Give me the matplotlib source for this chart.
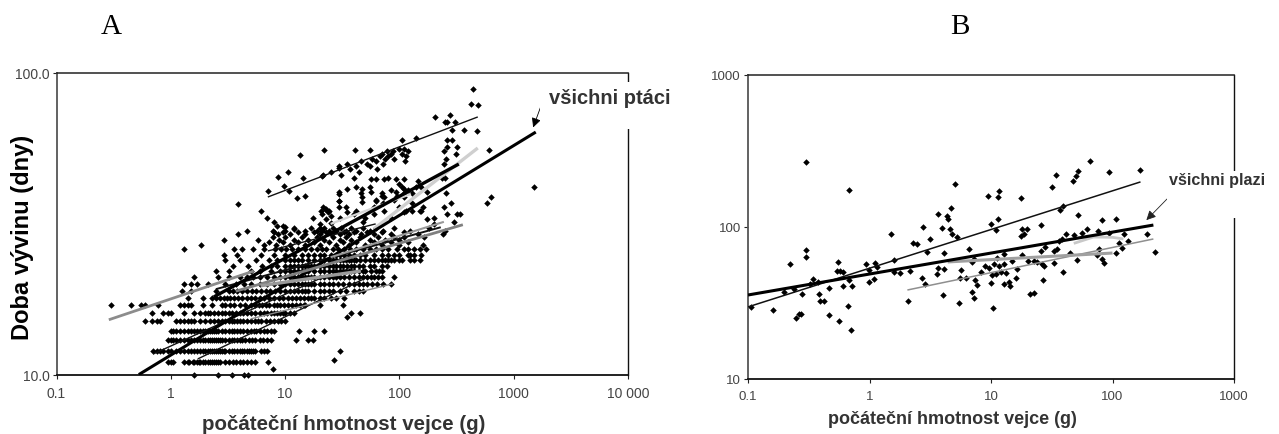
import matplotlib
matplotlib.use("Agg")
import matplotlib.pyplot as plt
from matplotlib.patches import Rectangle

W, H = 1279, 435

# ---------- Panel A: rows of whole-day development times ----------
rows_a = {
 10: [1.6, 2.6, 3.4, 4.4, 4.7],
 11: [0.95, 1.0, 1.05, 1.3, 1.4, 1.45, 1.55, 1.6, 1.7, 1.75, 1.8, 1.9, 2.0, 2.1, 2.2, 2.3, 2.4, 2.5, 2.6, 2.7, 3.0, 3.2, 3.5, 3.7, 4.0, 4.3, 4.6, 5.0, 5.5, 7.1],
 12: [0.7, 0.75, 0.8, 0.85, 0.95, 1.0, 1.1, 1.2, 1.3, 1.4, 1.5, 1.6, 1.7, 1.8, 1.9, 2.0, 2.1, 2.2, 2.3, 2.4, 2.5, 2.6, 2.7, 2.8, 2.9, 3.0, 3.2, 3.4, 3.6, 3.8, 4.0, 4.2, 4.4, 4.6, 4.8, 5.0, 5.2, 5.5, 6.2, 6.6, 7.0],
 13: [0.95, 1.0, 1.05, 1.1, 1.2, 1.3, 1.4, 1.5, 1.6, 1.7, 1.8, 1.9, 2.0, 2.1, 2.2, 2.3, 2.4, 2.5, 2.6, 2.7, 2.8, 3.0, 3.2, 3.4, 3.6, 3.8, 4.0, 4.2, 4.5, 4.8, 5.1, 5.4, 6.0, 6.4, 7.0, 7.6, 12.4, 15.8, 17.5],
 14: [1.0, 1.05, 1.1, 1.2, 1.3, 1.4, 1.5, 1.6, 1.7, 1.8, 1.9, 2.0, 2.1, 2.2, 2.3, 2.4, 2.5, 2.6, 2.8, 3.0, 3.2, 3.4, 3.6, 3.8, 4.0, 4.3, 4.6, 5.0, 5.3, 5.6, 6.0, 6.5, 7.0, 7.5, 8.0, 13.2, 18.0, 21.8],
 15: [0.6, 0.68, 0.75, 0.8, 1.1, 1.2, 1.3, 1.4, 1.5, 1.6, 1.8, 2.0, 2.2, 2.4, 2.6, 2.8, 3.0, 3.2, 3.4, 3.6, 3.8, 4.0, 4.3, 4.6, 5.0, 5.4, 5.8, 6.2, 6.8, 7.4, 8.0, 8.6, 9.2, 10.0],
 16: [0.68, 0.85, 0.95, 1.0, 1.3, 1.6, 1.8, 2.0, 2.1, 2.2, 2.4, 2.6, 2.8, 3.0, 3.2, 3.4, 3.7, 4.0, 4.3, 4.6, 5.0, 5.5, 6.0, 6.5, 7.0, 7.5, 8.0, 8.5, 9.0, 9.5, 10.0, 11.0, 12.0],
 17: [0.3, 0.45, 0.55, 0.6, 0.78, 1.2, 1.3, 1.4, 1.5, 1.9, 2.3, 2.8, 3.0, 3.3, 3.6, 4.0, 4.5, 5.0, 5.5, 5.9, 6.3, 6.8, 7.3, 8.0, 8.5, 9.0, 9.7, 10.5, 11.5, 12.5, 13.5, 14.5, 15.0, 20.0],
 18: [1.4, 1.9, 2.3, 2.5, 2.7, 2.9, 3.1, 3.3, 3.6, 3.9, 4.2, 4.6, 5.0, 5.5, 6.0, 6.6, 7.2, 8.0, 8.8, 9.6, 10.5, 11.5, 12.5, 13.5, 14.5, 16, 17, 18, 20, 22, 25, 28, 33],
 19: [1.25, 1.5, 2.5, 3.2, 3.5, 3.8, 4.2, 4.6, 5.1, 5.6, 6.1, 6.8, 7.4, 8.2, 9, 10, 11, 12, 13, 14, 15, 16, 18, 20, 22, 24, 26, 30, 34, 40, 44, 48],
 20: [1.3, 1.5, 1.7, 2.1, 3.0, 3.7, 4.4, 5, 6, 7, 8, 9, 10, 11, 12, 13, 14, 15, 16, 17, 18, 20, 22, 24, 26, 29, 32, 36, 40, 44, 48, 52, 58, 64, 72, 84],
 21: [1.6, 2.6, 3.2, 4, 4.6, 5.2, 6.0, 7, 8, 9, 10, 11, 12, 13, 14, 15, 16, 17, 18, 20, 22, 24, 26, 28, 30, 33, 36, 40, 44, 48, 52, 56, 60, 65, 70, 90],
 22: [2.5, 3.2, 5.0, 6.0, 7.5, 9, 10, 11, 12, 13, 14, 15, 16, 18, 20, 22, 24, 26, 28, 30, 32, 34, 36, 38, 40, 44, 48, 50, 56, 62, 66, 70],
 23: [3.5, 4.7, 6.3, 7.5, 8.5, 10, 11, 12, 13, 14, 15, 16, 17, 18, 20, 22, 24, 26, 28, 30, 32, 35, 38, 40, 44, 48, 55, 60, 70, 78],
 24: [3.0, 4.0, 5.6, 7.2, 8.5, 10, 11, 12, 13, 14, 16, 18, 20, 22, 24, 26, 28, 30, 32, 34, 36, 38, 40, 42, 45, 50, 55, 60, 65, 70, 75, 80, 85, 90, 100, 105, 125, 135, 150],
 25: [2.9, 3.8, 6.2, 8, 10, 12, 14, 16, 18, 20, 22, 25, 28, 30, 33, 36, 40, 45, 50, 60, 70, 80, 90, 100, 120, 125, 135, 155],
 26: [1.3, 3.6, 4.2, 5.2, 6.5, 8.2, 9.2, 10.2, 11.5, 13, 15, 17, 19, 21, 23, 26, 29, 33, 37, 42, 48, 55, 62, 70, 80, 95, 110, 120, 135, 150, 170],
 27: [1.85, 6.6, 8.3, 11, 15, 20, 28, 36, 50, 70, 100, 160],
 27.6: [7.2, 9.5, 13, 18, 24, 32, 42, 60, 85, 120],
 28: [2.9, 5.8, 8.8, 12, 16, 22, 30, 38, 55, 75, 100],
 28.6: [7.8, 10, 14, 19, 26, 34, 45, 65, 90, 110, 165],
 29.2: [3.9, 8.7, 11, 15, 20, 25, 30, 36, 46, 60, 85, 145, 240],
 29.8: [8.0, 9.6, 13, 18, 23, 27, 33, 40, 52, 70, 110],
 30: [4.6, 10, 15, 19, 21, 24, 28, 34, 42, 55, 72, 125, 250],
 30.7: [12, 17, 20, 22, 26, 31, 38, 48, 62, 90, 180],
}
extra_a_x = [438, 422, 485, 204, 250, 262, 277, 305, 286, 365, 475, 260, 286, 245, 263, 322, 310, 255, 245, 610, 1500, 580, 630,
             13.5, 22, 40.6, 55, 106, 139, 21.2, 25, 29.6, 31, 35, 37, 41.5, 44, 46, 52, 55, 58, 62, 64, 68, 70, 72, 75, 78, 80, 85, 88, 90, 100, 106, 110, 113, 114, 120,
             8.6, 10.5, 14.3, 21.3, 29.5, 7.05, 9.7, 10.8, 12.7, 14.9, 29.5, 29.5, 3.86, 6.1, 22.7, 21, 24, 25, 23, 17.5, 20, 25, 10,
             12, 8.5, 8, 7, 9.5, 7.8, 30, 40, 34, 50, 60, 70, 85, 95, 105, 130, 145, 160, 40, 46, 55, 63, 80, 100, 120,
             48, 60, 72, 85, 100, 115, 130, 150, 70, 90, 110, 140, 200, 245, 260, 300, 320, 280, 340, 255, 235, 250, 38, 45, 32, 35, 27, 30, 7.8,
             29.7, 29.7, 35, 41.5, 47.5, 56, 47.5, 47.5, 56, 62, 73.5, 93, 110, 62, 73.5, 93, 110, 110, 154, 176,
             20.5, 21.5, 22.5, 23.5, 29.7, 35, 41.5, 73.5, 110, 130, 154, 176, 201]
extra_a_y = [88.5, 78.9, 78.3, 71.3, 69, 69, 72.5, 69, 64.6, 64.6, 64, 60, 60, 55, 57, 57, 54, 52, 50, 55.6, 42, 37, 38.9,
             53.4, 55.4, 55.4, 55.4, 60, 61, 45.7, 47, 48.5, 46, 50, 48, 49, 47, 51, 50, 49, 52, 51, 48, 53, 54, 50, 52, 55, 53, 54, 55, 52, 56, 54, 56, 51, 53, 55,
             45.2, 47, 44.8, 45.9, 49, 40.6, 42.3, 40.6, 38.5, 39.1, 39.7, 37.6, 36.8, 34.9, 35.4, 34, 35, 33.5, 32.8, 33.1, 31.5, 31.8, 30.9,
             30.5, 31, 32, 33, 31, 30, 33, 34, 36, 33, 36, 40, 41, 39, 42, 40, 44, 36, 45, 40, 42, 38, 45, 43, 41,
             32, 34, 37, 33, 36, 35, 37, 35, 39, 38, 40, 42, 33, 36, 34, 32, 34, 37, 34, 40, 45, 45, 16, 16, 17, 15.5, 11.2, 12, 10.4,
             40.2, 37.7, 41.2, 41.8, 41.2, 40.2, 38.7, 37.3, 44.5, 44.5, 44.5, 44.5, 44.5, 37.7, 38.7, 40.2, 41.2, 38.7, 41.8, 40.2,
             35, 36, 35.5, 34.5, 35.9, 34.5, 35, 35, 34.5, 35, 35, 32.8, 31.6]

# trend lines, panel A
a_all_x, a_all_y = [0.525, 1560], [10, 63.7]
a_thin_top_x, a_thin_top_y = [7.06, 485], [38.8, 71.5]
a_thick2_x, a_thick2_y = [2.38, 331], [18.1, 49.9]
a_light_x, a_light_y = [59.7, 485], [30.4, 56.4]
a_light2_x, a_light2_y = [25, 126], [31.6, 39.7]
a_gray1_x, a_gray1_y = [0.287, 5.32], [15.2, 22.05]
a_gray2_x, a_gray2_y = [3.7, 359], [18.9, 31.4]
a_gray3_x, a_gray3_y = [6.1, 46], [19.7, 22.05]
a_gray4_x, a_gray4_y = [25, 245], [24.5, 32.1]
a_gray5_x, a_gray5_y = [5, 87.5], [15.3, 20]
a_thin1_x, a_thin1_y = [1.72, 48.8], [11.27, 20.75]
a_thin2_x, a_thin2_y = [0.70, 25], [11.7, 21.6]
a_thin3_x, a_thin3_y = [7.06, 62], [25.7, 31.6]
a_thin4_x, a_thin4_y = [2.48, 230], [19.2, 30.8]

# ---------- Panel B ----------
b_x = [.303, .676, .221, .303, .303, .105, .16, .249, .262, .274, .341, .323, .279, .383, .395, .426, .468, .559, .663, .698, .463, .552,
       .54, .577, .607, .604, .711, .676, .375, .197, .238, .939, 1.107, 1.156, .987, 1.086, .987, 1.507, 1.586, 1.586, 1.777, 2.17, 2.08,
       2.27, 2.44, 2.76, 2.71, 2.89, 2.95, 3.14, 3.65, 3.56, 3.65, 4.09, 3.92, 4.04, 4.09, 4.36, 4.44, 4.65, 5.1, 4.58, 4.79, 5.27, 5.5,
       5.67, 5.6, 6.17, 6.57, 7, 7.2, 7.2, 7, 7.45, 7.6, 8.2, 9, 9.4,
       11.4, 11.7, 17.7, 31.9, 34, 47.2, 49.7, 51.9, 65.2, 93.4, 170, 39.3, 37.3, 11.5, 10, 10.9, 18, 18.6, 19.9, 17.5, 25.9, 52.2, 82.2, 107,
       193, 222, 41.6, 48, 55.6, 62, 75.9, 93, 124, 134, 113, 119, 106, 75, 82, 85, 77, 45, 51.3, 33, 36.2, 38.5, 28, 25.6, 33, 35, 26.4, 27.2,
       20, 22.6, 24, 39.3, 26.9, 22.8, 20.9, 10.4, 14, 14.3, 12.8, 16.2, 12, 13.2, 10.9, 10.2, 10, 9.6, 10.6, 11.6, 12.8, 14.9, 16.4, 12.8, 18, 11.2]
b_y = [268, 174, 56.8, 70.2, 63.5, 29.8, 28.4, 25.2, 26.9, 26.9, 45.7, 42.4, 36.4, 36.4, 32.4, 32.4, 26.2, 24, 30.2, 20.9, 39.7, 58.8,
       51.4, 51.1, 50.6, 40.9, 40.9, 44.6, 43.4, 37.4, 38.9, 57.4, 57.9, 54.6, 43.4, 45.7, 51.9, 89.5, 61, 50.6, 49.8, 51, 32.4,
       78.9, 77.7, 100, 46.4, 42.4, 68.5, 83.8, 121, 49.3, 54, 53.2, 98.5, 35.5, 67.8, 117.5, 113, 133, 191, 97.5, 90.4, 85.9, 31.8,
       51.9, 46.4, 46.4, 72, 37.4, 34.3, 62, 58.8, 44.6, 41.7, 50.6, 55.4, 161,
       157, 173, 154, 184, 220, 200, 215, 232, 273, 229, 238, 138, 129.5, 113, 104, 95.6, 97, 90, 97, 86.7, 103, 120, 112, 113,
       90, 68, 90, 88.5, 92, 97, 94.6, 91, 90, 81, 78, 72.4, 67, 65.4, 62, 57.7, 71.6, 67.5, 61, 57.9, 81, 83.4, 73.4, 69.8, 69.8, 71.6, 57, 55,
       60, 60, 59, 50.4, 44.8, 37, 36, 29.3, 43.3, 41, 42, 46, 50.4, 50, 49, 48, 43, 54, 57, 55, 57, 60, 53, 66, 65, 63]

b_all_x, b_all_y = [0.1, 217], [35.7, 103]
b_thin_x, b_thin_y = [0.1, 170], [29.8, 198]
b_gray_x, b_gray_y = [2.05, 217], [38.5, 83.4]
b_mid_x, b_mid_y = [4.4, 100], [58.9, 67.4]
b_light_x, b_light_y = [48, 69.8, 100, 123], [78, 85.9, 85.5, 83.4]

xticks_a = [0.1, 1, 10, 100, 1000, 10000]
xlabels_a = ["0.1", "1", "10", "100", "1000", "10 000"]
yticks_a = [10, 100]
ylabels_a = ["10.0", "100.0"]
xticks_b = [0.1, 1, 10, 100, 1000]
xlabels_b = ["0.1", "1", "10", "100", "1000"]
yticks_b = [10, 100, 1000]
ylabels_b = ["10", "100", "1000"]

plt.rcParams['font.family'] = ['Liberation Sans', 'DejaVu Sans']
fig = plt.figure(figsize=(W/100, H/100), dpi=100, facecolor='white')

def mk(l, r, t, b):
    return fig.add_axes([l/W, 1-b/H, (r-l)/W, (b-t)/H])

axa = mk(56.5, 628, 74, 375.6)
axb = mk(748, 1234, 76, 380)

for ax, xt, xl, yt, yl, fs, xlim, ylim, pad in [
    (axa, xticks_a, xlabels_a, yticks_a, ylabels_a, 10, (0.1, 10000), (10, 100), 5),
    (axb, xticks_b, xlabels_b, yticks_b, ylabels_b, 9.5, (0.1, 1000), (10, 1000), 5)]:
    ax.set_xscale('log'); ax.set_yscale('log')
    ax.set_xlim(*xlim); ax.set_ylim(*ylim)
    ax.set_xticks(xt); ax.set_xticklabels(xl, fontsize=fs, color='#444444')
    ax.set_yticks(yt); ax.set_yticklabels(yl, fontsize=fs, color='#444444')
    ax.minorticks_off()
    ax.tick_params(axis='x', length=3, width=0.8, color='#222222', pad=pad)
    ax.tick_params(axis='y', length=3, width=0.8, color='#222222', pad=2)
    ax.spines['left'].set_color('#555555'); ax.spines['left'].set_linewidth(1.3)
    ax.spines['bottom'].set_color('#111111'); ax.spines['bottom'].set_linewidth(1.3)
    ax.spines['top'].set_color('#222222'); ax.spines['top'].set_linewidth(1.1)
    ax.spines['right'].set_color('#111111'); ax.spines['right'].set_linewidth(1.0)

# panel A marks
for yv, xs in rows_a.items():
    axa.scatter(xs, [yv]*len(xs), s=11, marker='D', c='black', linewidths=0, zorder=2, clip_on=False)
axa.scatter(extra_a_x, extra_a_y, s=11, marker='D', c='black', linewidths=0, zorder=2)

for xs, ys, c, lw in [
    (a_thin_top_x, a_thin_top_y, '#111111', 1.0),
    (a_thin1_x, a_thin1_y, '#111111', 1.0),
    (a_thin2_x, a_thin2_y, '#111111', 1.0),
    (a_thin3_x, a_thin3_y, '#111111', 1.0),
    (a_thin4_x, a_thin4_y, '#111111', 1.4),
    (a_light_x, a_light_y, '#cfcfcf', 2.4),
    (a_light2_x, a_light2_y, '#d5d5d5', 1.6),
    (a_gray5_x, a_gray5_y, '#8a8a8a', 1.0),
    (a_thick2_x, a_thick2_y, '#000000', 2.4),
    (a_all_x, a_all_y, '#000000', 2.2),
    (a_gray1_x, a_gray1_y, '#8c8c8c', 2.0),
    (a_gray2_x, a_gray2_y, '#808080', 2.0),
    (a_gray3_x, a_gray3_y, '#9a9a9a', 2.4),
    (a_gray4_x, a_gray4_y, '#999999', 1.5)]:
    axa.plot(xs, ys, color=c, lw=lw, solid_capstyle='butt', zorder=3)

# panel B marks
axb.scatter(b_x, b_y, s=11, marker='D', c='black', linewidths=0, zorder=2)
for xs, ys, c, lw in [
    (b_thin_x, b_thin_y, '#111111', 1.1),
    (b_gray_x, b_gray_y, '#8f8f8f', 1.1),
    (b_light_x, b_light_y, '#c8c8c8', 2.0),
    (b_mid_x, b_mid_y, '#a0a0a0', 2.2),
    (b_all_x, b_all_y, '#000000', 2.2)]:
    axb.plot(xs, ys, color=c, lw=lw, solid_capstyle='butt', zorder=3)

# white boxes that interrupt the right frame behind the call-outs
fig.add_artist(Rectangle((540/W, 1-130/H), 140/W, 47/H, transform=fig.transFigure, fc='white', ec='none', zorder=5))
fig.add_artist(Rectangle((1167/W, 1-219/H), 105/W, 47/H, transform=fig.transFigure, fc='white', ec='none', zorder=5))

def ftext(px, py, s, **kw):
    fig.text(px/W, 1-py/H, s, zorder=6, **kw)

ftext(549, 99, "všichni ptáci", fontsize=14.5, fontweight='bold', color='#333333', ha='left', va='center')
ftext(1169, 181, "všichni plazi", fontsize=11.6, fontweight='bold', color='#333333', ha='left', va='center')
ftext(111, 27, "A", fontsize=21, family='Liberation Serif', ha='center', va='center')
ftext(960, 27, "B", fontsize=21, family='Liberation Serif', ha='center', va='center')
ftext(344, 425, "počáteční hmotnost vejce (g)", fontsize=14.8, fontweight='bold', color='#333333', ha='center', va='center')
ftext(952, 420, "počáteční hmotnost vejce (g)", fontsize=13, fontweight='bold', color='#333333', ha='center', va='center')
ftext(23, 237, "Doba vývinu (dny)", fontsize=17, fontweight='bold', color='black', rotation=90, ha='center', va='center')

# arrows
axa.annotate("", xy=(1480, 66), xytext=(541.7/W, 1-105/H), textcoords='figure fraction', xycoords='data',
             arrowprops=dict(arrowstyle='-|>', color='black', lw=0.6, mutation_scale=14, shrinkA=0, shrinkB=0), zorder=7)
axb.annotate("", xy=(190, 111), xytext=(1167/W, 1-200/H), textcoords='figure fraction', xycoords='data',
             arrowprops=dict(arrowstyle='-|>', color='#222222', lw=0.6, mutation_scale=14, shrinkA=0, shrinkB=0), zorder=7)

fig.savefig("out.png", dpi=100)
